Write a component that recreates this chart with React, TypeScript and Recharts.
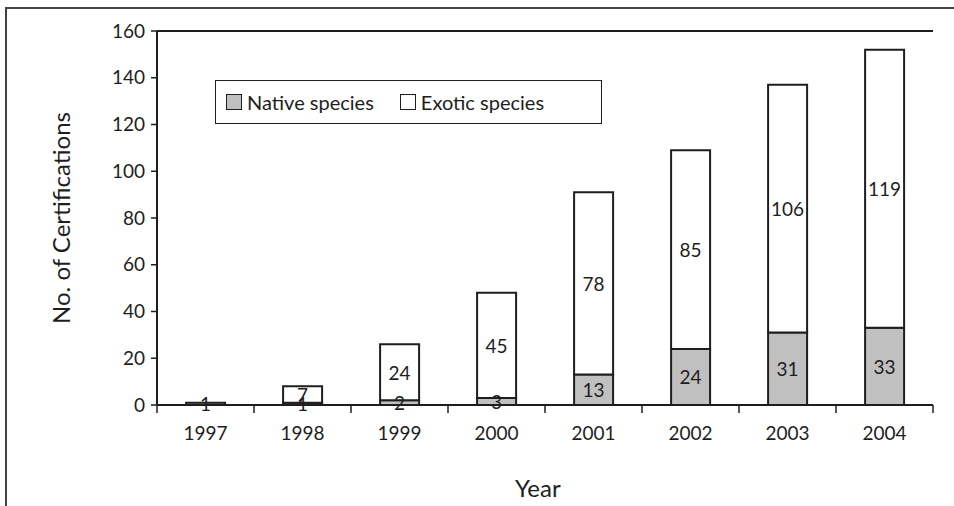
import React from 'react';
import { BarChart, Bar, XAxis, YAxis, ReferenceLine, LabelList } from 'recharts';

const years = ['1997', '1998', '1999', '2000', '2001', '2002', '2003', '2004'];
const nativeSpecies = [1, 1, 2, 3, 13, 24, 31, 33];
const exoticSpecies = [0, 7, 24, 45, 78, 85, 106, 119];
const yTicks = [0, 20, 40, 60, 80, 100, 120, 140, 160];

const data = years.map((y, i) => ({ year: y, native: nativeSpecies[i], exotic: exoticSpecies[i] }));

const FONT = 'Lato, "Open Sans", sans-serif';
const INK = '#1e1e1e';

const YearTick = (props: any) => {
  const { x, y, payload, index } = props;
  const half = payload && payload.offset ? payload.offset : 48.5;
  return (
    <g>
      {index === 0 && <line x1={x - half} x2={x - half} y1={y} y2={y + 8} stroke={INK} strokeWidth={1.5} />}
      <line x1={x + half} x2={x + half} y1={y} y2={y + 8} stroke={INK} strokeWidth={1.5} />
      <text x={x} y={y + 35} textAnchor="middle" fontSize={19} fill={INK} fontFamily={FONT}>
        {payload.value}
      </text>
    </g>
  );
};

const CenterLabel = (p: any) => {
  const x = Number(p.x) + Number(p.width) / 2;
  const y = Number(p.y) + Number(p.height) / 2;
  if (!isFinite(x) || !isFinite(y)) return null;
  return (
    <text x={x} y={y} textAnchor="middle" dominantBaseline="central" fontSize={19} fill={INK} fontFamily={FONT}>
      {p.value}
    </text>
  );
};

export default function App() {
  return (
    <div style={{ position: 'absolute', left: 0, top: 0, width: 954, height: 506, overflow: 'hidden', background: '#fff' }}>
      <div style={{ position: 'absolute', left: 5, top: 7, width: 980, height: 540, border: '2px solid #444' }} />
      <div style={{ position: 'absolute', left: 0, top: 0 }}>
        <BarChart width={954} height={506} data={data} margin={{ top: 31, right: 21, bottom: 61, left: 0 }} barCategoryGap="30%">
          <XAxis dataKey="year" height={40} tickLine={false} tickSize={0} tickMargin={0} axisLine={{ stroke: INK, strokeWidth: 2 }} tick={<YearTick />} interval={0} />
          <YAxis domain={[0, 160]} ticks={yTicks} width={157} interval={0} tickSize={6} tickMargin={6}
            axisLine={{ stroke: INK, strokeWidth: 2 }} tickLine={{ stroke: INK, strokeWidth: 1.5 }}
            tick={{ fontSize: 19, fill: INK, fontFamily: FONT }} />
          <YAxis yAxisId="r" orientation="right" width={0} domain={[0, 160]} tick={false} tickLine={false} axisLine={{ stroke: INK, strokeWidth: 2 }} />
          <ReferenceLine y={160} stroke={INK} strokeWidth={2} />
          <Bar dataKey="native" stackId="a" fill="#c0c0c0" stroke={INK} strokeWidth={2} isAnimationActive={false}>
            <LabelList dataKey="native" content={<CenterLabel />} />
          </Bar>
          <Bar dataKey="exotic" stackId="a" fill="#ffffff" stroke={INK} strokeWidth={2} isAnimationActive={false}>
            <LabelList dataKey="exotic" content={<CenterLabel />} />
          </Bar>
        </BarChart>
      </div>
      <div style={{
        position: 'absolute', left: 215, top: 80, width: 385, height: 42, border: `1.5px solid ${INK}`, background: '#fff',
        display: 'flex', alignItems: 'center', fontFamily: FONT, fontSize: 20, color: INK
      }}>
        <span style={{ display: 'inline-block', width: 14, height: 14, background: '#c0c0c0', border: `1.5px solid ${INK}`, marginLeft: 10, marginRight: 5 }} />
        <span>Native species</span>
        <span style={{ display: 'inline-block', width: 14, height: 14, background: '#fff', border: `1.5px solid ${INK}`, marginLeft: 26, marginRight: 5 }} />
        <span>Exotic species</span>
      </div>
      <div style={{ position: 'absolute', left: 515, top: 473, fontFamily: FONT, fontSize: 24, color: INK }}>Year</div>
      <div style={{
        position: 'absolute', left: 60, top: 218, transform: 'translate(-50%, -50%) rotate(-90deg)', whiteSpace: 'nowrap',
        fontFamily: FONT, fontSize: 24, color: INK
      }}>No. of Certifications</div>
    </div>
  );
}
